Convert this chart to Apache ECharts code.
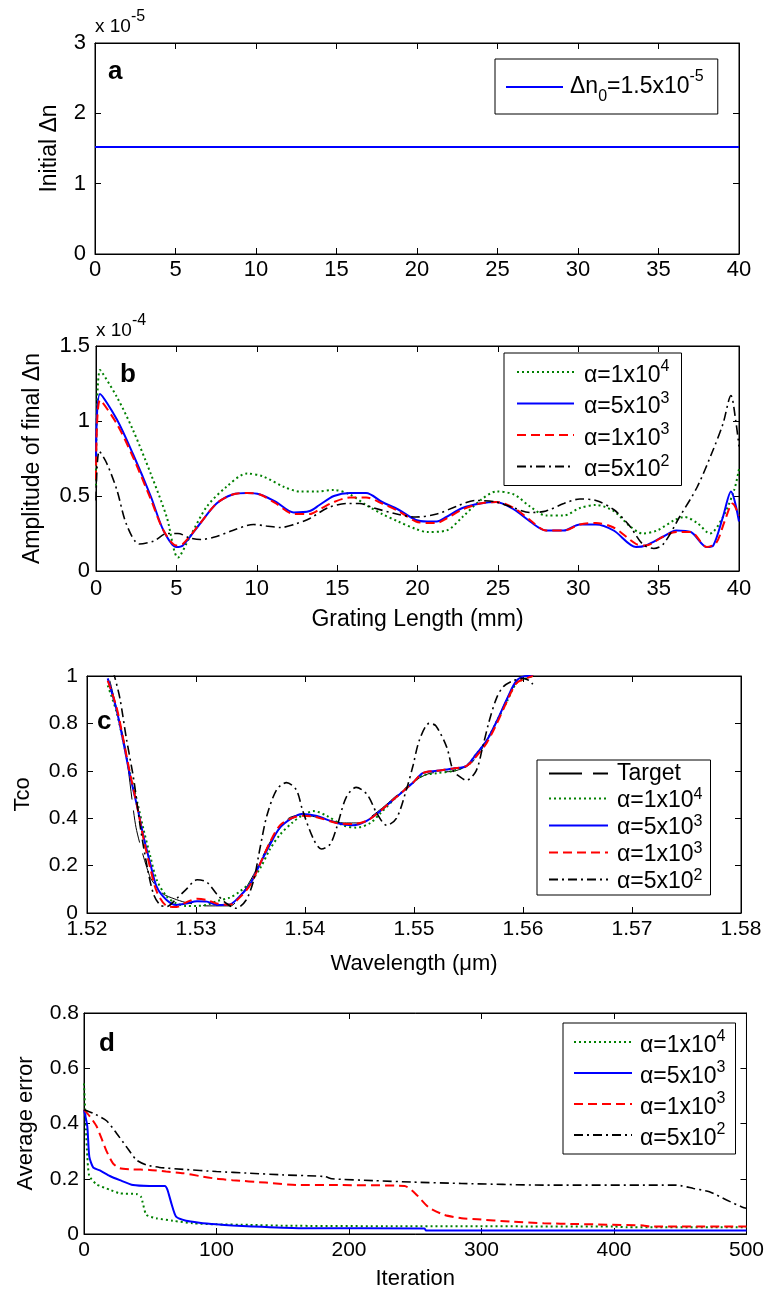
<!DOCTYPE html>
<html><head><meta charset="utf-8">
<script src="https://cdn.jsdelivr.net/npm/echarts@6/dist/echarts.min.js"></script>
<style>html,body{margin:0;padding:0;background:#fff}#c{width:767px;height:1293px}</style>
</head><body><div id="c"></div>
<script>
// ---------------- DATA ----------------
// Panel a (values in units of 1e-5)
const aLine = [[0, 1.52], [40, 1.52]];

// Panel b: grating length (mm) vs amplitude (units of 1e-4)
const bAlpha1e4 = [[0,0.57],[0.25,1.34],[1.3,1.16],[2.3,0.94],[3.4,0.65],[4.4,0.36],[5.1,0.09],[5.85,0.23],[6.9,0.43],[8.1,0.56],[9.4,0.65],[10.4,0.63],[11.7,0.56],[12.7,0.53],[13.7,0.53],[14.8,0.54],[15.8,0.51],[16.8,0.44],[17.8,0.38],[18.8,0.33],[19.9,0.28],[20.6,0.26],[21.8,0.27],[22.8,0.36],[23.9,0.47],[24.9,0.53],[26.0,0.51],[27.0,0.43],[28.0,0.37],[29.1,0.37],[30.1,0.42],[31.1,0.44],[32.2,0.40],[33.2,0.30],[34.0,0.25],[34.9,0.27],[36.0,0.34],[36.6,0.36],[37.4,0.32],[38.2,0.25],[39.0,0.36],[39.7,0.54],[40,0.68]];
const bAlpha5e3 = [[0,0.72],[0.25,1.18],[1.3,1.01],[2.3,0.78],[3.4,0.50],[4.2,0.27],[5.0,0.16],[5.4,0.17],[6.5,0.32],[7.5,0.45],[8.5,0.51],[9.4,0.52],[10.2,0.51],[11.2,0.46],[12.3,0.39],[13.3,0.40],[13.9,0.44],[14.8,0.50],[15.8,0.52],[16.8,0.52],[17.8,0.46],[18.8,0.41],[19.9,0.34],[20.6,0.33],[21.2,0.33],[21.8,0.36],[22.8,0.42],[23.9,0.45],[24.9,0.46],[26.0,0.41],[27.0,0.33],[28.0,0.27],[29.1,0.27],[30.1,0.31],[31.1,0.31],[32.2,0.27],[33.6,0.16],[34.2,0.17],[35.3,0.23],[36.1,0.27],[37.0,0.26],[38.0,0.16],[38.4,0.17],[39.0,0.36],[39.5,0.53],[40,0.33]];
const bAlpha1e3 = [[0,0.61],[0.25,1.14],[1.3,0.98],[2.3,0.76],[3.4,0.48],[4.2,0.27],[5.0,0.17],[5.4,0.18],[6.5,0.32],[7.5,0.45],[8.5,0.51],[9.4,0.52],[10.2,0.51],[11.2,0.45],[12.3,0.38],[13.3,0.38],[13.9,0.41],[14.8,0.46],[15.8,0.49],[16.8,0.49],[17.8,0.45],[18.8,0.40],[19.9,0.33],[20.6,0.32],[21.2,0.32],[21.8,0.35],[22.8,0.41],[23.9,0.45],[24.9,0.46],[26.0,0.42],[27.0,0.34],[28.0,0.27],[29.1,0.27],[30.1,0.31],[31.1,0.32],[32.2,0.29],[33.6,0.18],[34.2,0.17],[35.3,0.23],[36.1,0.26],[37.0,0.26],[38.0,0.16],[38.6,0.19],[39.1,0.33],[39.6,0.45],[40,0.37]];
const bAlpha5e2 = [[0,0.47],[0.2,0.80],[0.66,0.72],[1.3,0.54],[1.9,0.31],[2.7,0.18],[3.6,0.20],[4.4,0.25],[5.1,0.25],[5.85,0.22],[6.5,0.21],[7.5,0.23],[8.5,0.27],[9.8,0.31],[10.6,0.30],[11.5,0.29],[12.3,0.31],[13.3,0.35],[14.4,0.42],[15.6,0.45],[16.4,0.45],[17.3,0.42],[18.7,0.38],[19.9,0.36],[21.2,0.38],[22.4,0.43],[23.6,0.47],[24.9,0.46],[26.0,0.42],[27.0,0.39],[28.0,0.40],[29.1,0.45],[30.1,0.48],[31.1,0.47],[32.2,0.41],[33.2,0.30],[34.0,0.18],[34.7,0.15],[35.3,0.18],[36.3,0.36],[37.4,0.56],[38.4,0.81],[39.0,0.98],[39.5,1.17],[39.8,1.0],[40,0.83]];

// Panel c: wavelength (um) vs Tco
const cTarget = [[1.5221,0.98],[1.5235,0.70],[1.5245,0.36],[1.5258,0.15],[1.527,0.08],[1.528,0.06],[1.529,0.045],[1.531,0.03],[1.5332,0.03],[1.5345,0.10],[1.5355,0.18],[1.5368,0.30],[1.5385,0.40],[1.5397,0.415],[1.5415,0.40],[1.5435,0.38],[1.545,0.38],[1.547,0.44],[1.549,0.52],[1.5505,0.57],[1.5515,0.59],[1.5538,0.60],[1.5552,0.63],[1.5562,0.69],[1.5575,0.80],[1.5588,0.93],[1.56,1.0],[1.561,1.0]];
const cAlpha1e4 = [[1.5219,0.96],[1.5227,0.85],[1.5233,0.73],[1.5239,0.60],[1.5246,0.47],[1.5252,0.35],[1.5258,0.24],[1.5264,0.14],[1.5273,0.07],[1.5282,0.04],[1.5291,0.03],[1.5301,0.03],[1.531,0.035],[1.5319,0.05],[1.5331,0.065],[1.534,0.09],[1.535,0.13],[1.5359,0.19],[1.5368,0.27],[1.5377,0.33],[1.5388,0.38],[1.5397,0.41],[1.5408,0.43],[1.542,0.41],[1.5435,0.37],[1.5447,0.36],[1.546,0.38],[1.5469,0.42],[1.5484,0.49],[1.5499,0.55],[1.5508,0.58],[1.5521,0.59],[1.5536,0.60],[1.5548,0.62],[1.5557,0.67],[1.5567,0.73],[1.5576,0.81],[1.5585,0.89],[1.5594,0.97],[1.5603,0.99],[1.5609,1.0]];
const cAlpha5e3 = [[1.5219,0.99],[1.5227,0.86],[1.5233,0.73],[1.5239,0.59],[1.5246,0.45],[1.5252,0.32],[1.5258,0.21],[1.5264,0.11],[1.5273,0.055],[1.5282,0.034],[1.5291,0.04],[1.5301,0.05],[1.531,0.048],[1.5319,0.034],[1.5331,0.036],[1.534,0.07],[1.535,0.125],[1.5359,0.21],[1.5368,0.29],[1.5377,0.36],[1.5388,0.40],[1.5397,0.418],[1.541,0.41],[1.5429,0.38],[1.5444,0.37],[1.5457,0.39],[1.5469,0.43],[1.5484,0.49],[1.5499,0.55],[1.5508,0.59],[1.5521,0.60],[1.5536,0.61],[1.5548,0.62],[1.5557,0.67],[1.5567,0.73],[1.5576,0.81],[1.5585,0.90],[1.5594,0.98],[1.5603,1.0],[1.5609,1.0]];
const cAlpha1e3 = [[1.5219,0.98],[1.5227,0.87],[1.5233,0.74],[1.5239,0.60],[1.5246,0.45],[1.5252,0.31],[1.5258,0.19],[1.5264,0.09],[1.5273,0.03],[1.5282,0.025],[1.5291,0.045],[1.5301,0.06],[1.531,0.055],[1.5319,0.04],[1.5331,0.035],[1.534,0.065],[1.535,0.12],[1.5359,0.21],[1.5368,0.30],[1.5377,0.37],[1.5388,0.40],[1.5397,0.41],[1.541,0.405],[1.5429,0.38],[1.5444,0.375],[1.5457,0.39],[1.5469,0.43],[1.5484,0.49],[1.5499,0.55],[1.5508,0.59],[1.5521,0.60],[1.5536,0.61],[1.5548,0.62],[1.5557,0.66],[1.5567,0.72],[1.5576,0.80],[1.5585,0.89],[1.5594,0.97],[1.5603,0.99],[1.5609,1.0]];
const cAlpha5e2 = [[1.5224,1.02],[1.523,0.91],[1.5236,0.74],[1.5243,0.56],[1.5249,0.36],[1.5255,0.20],[1.5261,0.08],[1.5267,0.034],[1.5273,0.027],[1.5282,0.06],[1.5291,0.10],[1.5301,0.14],[1.531,0.13],[1.5319,0.08],[1.5328,0.04],[1.5337,0.02],[1.5346,0.055],[1.5353,0.14],[1.5359,0.28],[1.5365,0.41],[1.5374,0.52],[1.5383,0.55],[1.5392,0.52],[1.5398,0.43],[1.5408,0.31],[1.5415,0.27],[1.5423,0.29],[1.5429,0.36],[1.5438,0.49],[1.5447,0.53],[1.5457,0.50],[1.5466,0.42],[1.5475,0.37],[1.5484,0.40],[1.5493,0.52],[1.5499,0.62],[1.5505,0.73],[1.5514,0.80],[1.552,0.79],[1.553,0.70],[1.5536,0.60],[1.5542,0.575],[1.5548,0.56],[1.5557,0.60],[1.5563,0.70],[1.5569,0.81],[1.5576,0.91],[1.5582,0.955],[1.5591,0.98],[1.56,0.99],[1.5606,0.98],[1.5609,0.965]];

// Panel d: iteration vs average error
const dAlpha1e4 = [[0,0.545],[1.5,0.38],[2.5,0.28],[4,0.21],[9.5,0.18],[19.5,0.16],[27,0.147],[39.5,0.145],[43,0.135],[47,0.07],[54.5,0.057],[67,0.048],[82,0.039],[100,0.035],[125,0.033],[150,0.03],[237,0.028],[400,0.027],[410,0.024],[500,0.024]];
const dAlpha5e3 = [[0,0.45],[2.5,0.39],[4,0.28],[7,0.24],[12,0.23],[19.5,0.21],[27,0.195],[37,0.177],[49.5,0.174],[61,0.174],[63,0.16],[66,0.11],[69.5,0.063],[77,0.048],[87,0.041],[100,0.035],[112,0.031],[127,0.027],[162,0.021],[257,0.02],[258,0.013],[500,0.013]];
const dAlpha1e3 = [[0,0.45],[4.5,0.425],[9.5,0.39],[17,0.30],[22,0.255],[27,0.238],[37,0.234],[49.5,0.232],[62,0.226],[75,0.22],[87,0.21],[100,0.20],[112,0.195],[137,0.186],[162,0.177],[187,0.177],[242,0.174],[250,0.147],[260,0.097],[272,0.069],[285,0.057],[297,0.053],[322,0.045],[347,0.039],[372,0.036],[422,0.031],[427,0.027],[500,0.027]];
const dAlpha5e2 = [[0,0.45],[7,0.437],[17,0.41],[24.5,0.365],[32,0.316],[39.5,0.268],[47,0.25],[57,0.241],[75,0.234],[100,0.226],[125,0.22],[150,0.214],[182,0.208],[187,0.20],[220,0.193],[247,0.188],[285,0.183],[347,0.177],[447,0.177],[460,0.165],[472,0.153],[485,0.123],[497,0.097],[500,0.093]];

// Legend labels
const alphaMantissa = ['1x10', '5x10', '1x10', '5x10'];
const alphaExponent = ['4', '3', '3', '2'];
const panelLetters = ['a', 'b', 'c', 'd'];

// ---------------- STYLE ----------------
const FONT = "'Liberation Sans', Arial, Helvetica, sans-serif";
const GREEN = '#008000', BLUE = '#0000ff', RED = '#ff0000', BLACK = '#000000';
const DOT = [2, 3], DASH = [9, 5], DASHDOT = [9, 4, 2, 4], LONGDASH = [33, 11];

const grids = [
  { left: 95, top: 43, width: 644, height: 211 },
  { left: 96, top: 346, width: 643, height: 225 },
  { left: 87, top: 676, width: 654, height: 237 },
  { left: 84, top: 1013, width: 666, height: 221 }
].map(g => Object.assign({ show: true, borderColor: '#000', borderWidth: 1, backgroundColor: '#fff' }, g));

const xAxes = [], yAxes = [];
function addAxes(gi, isX, min, max, interval, fs, margin, fmt, name, nameGap, nameFs) {
  const base = {
    type: 'value', gridIndex: gi, min, max, interval,
    splitLine: { show: false },
    axisTick: { show: true, inside: true, length: 6, lineStyle: { color: '#000', width: 1 } },
    axisLine: { show: true, onZero: false, lineStyle: { color: '#000', width: 1 } }
  };
  const main = Object.assign({}, base, {
    position: isX ? 'bottom' : 'left',
    axisLabel: { show: true, color: '#000', fontSize: fs, fontFamily: FONT, margin, formatter: fmt, showMinLabel: true, showMaxLabel: true, hideOverlap: false },
    name, nameLocation: 'middle', nameGap,
    nameTextStyle: { color: '#000', fontSize: nameFs, fontFamily: FONT }
  });
  const sec = Object.assign({}, base, { position: isX ? 'top' : 'right', axisLabel: { show: false } });
  const arr = isX ? xAxes : yAxes;
  arr.push(main, sec);
}
const fmtInt = v => String(Math.round(v));
const fmtDec = v => String(+v.toFixed(2));
// panel a
addAxes(0, true, 0, 40, 5, 22, 5, fmtInt, '', 0, 22);
addAxes(0, false, 0, 3, 1, 22, 9, fmtInt, 'Initial \u0394n', 34, 23);
// panel b
addAxes(1, true, 0, 40, 5, 22, 7, fmtInt, 'Grating Length (mm)', 37, 23);
addAxes(1, false, 0, 1.5, 0.5, 22, 6, fmtDec, 'Amplitude of final \u0394n', 52, 23);
// panel c
addAxes(2, true, 1.52, 1.58, 0.01, 21, 6, v => v.toFixed(2), 'Wavelength (\u03bcm)', 40, 22);
addAxes(2, false, 0, 1, 0.2, 21, 9, fmtDec, 'Tco', 53, 22);
// panel d
addAxes(3, true, 0, 500, 100, 21, 6, fmtInt, 'Iteration', 34, 22);
addAxes(3, false, 0, 0.8, 0.2, 21, 5, fmtDec, 'Average error', 47, 22);

function line(name, data, gi, color, dash, width, smooth) {
  return {
    type: 'line', name, data, xAxisIndex: gi * 2, yAxisIndex: gi * 2,
    symbol: 'none', showSymbol: false, smooth: smooth, clip: true,
    lineStyle: { color, width, type: dash }, itemStyle: { color },
    emphasis: { disabled: true }, animation: false
  };
}

const series = [
  line('a1', aLine, 0, BLUE, 'solid', 2, false),
  line('b1', bAlpha1e4, 1, GREEN, DOT, 2, 0.3),
  line('b2', bAlpha5e3, 1, BLUE, 'solid', 2, 0.3),
  line('b3', bAlpha1e3, 1, RED, DASH, 2, 0.3),
  line('b4', bAlpha5e2, 1, BLACK, DASHDOT, 1.6, 0.3),
  line('c0', cTarget, 2, BLACK, LONGDASH, 1, 0.2),
  line('c1', cAlpha1e4, 2, GREEN, DOT, 2, 0.3),
  line('c2', cAlpha5e3, 2, BLUE, 'solid', 2, 0.3),
  line('c3', cAlpha1e3, 2, RED, DASH, 2, 0.3),
  line('c4', cAlpha5e2, 2, BLACK, DASHDOT, 1.6, 0.3),
  line('d1', dAlpha1e4, 3, GREEN, DOT, 2, 0.2),
  line('d2', dAlpha5e3, 3, BLUE, 'solid', 2, 0.2),
  line('d3', dAlpha1e3, 3, RED, DASH, 2, 0.2),
  line('d4', dAlpha5e2, 3, BLACK, DASHDOT, 1.6, 0.2)
];

const labelMap = { a1: '{m0|\u0394n}{d|0}{m|=1.5x10}{s|-5}', c0: '{T|Target}' };
['b', 'c', 'd'].forEach(p => {
  for (let i = 0; i < 4; i++) labelMap[p + (i + 1)] = '{t|\u03b1=' + alphaMantissa[i] + '}{s|' + alphaExponent[i] + '}';
});

function richFor(fs, ss, H, sTop, padL) {
  const base = { fontFamily: FONT, color: '#000' };
  return {
    t: Object.assign({ fontSize: fs, lineHeight: H, verticalAlign: 'bottom', padding: [0, 0, 0, padL] }, base),
    T: Object.assign({ fontSize: fs, lineHeight: H, padding: [0, 0, 0, padL] }, base),
    m0: Object.assign({ fontSize: fs, lineHeight: H, padding: [0, 0, 0, padL] }, base),
    m: Object.assign({ fontSize: fs, lineHeight: H }, base),
    s: Object.assign({ fontSize: ss, lineHeight: H, verticalAlign: 'top', padding: [sTop, 0, 0, 0] }, base),
    d: Object.assign({ fontSize: ss, lineHeight: H, verticalAlign: 'bottom', padding: [0, 0, sTop, 0] }, base)
  };
}
function legend(ids, left, top, padding, gap, iw, rich) {
  return {
    show: true, orient: 'vertical', left, top, padding, itemGap: gap,
    itemWidth: iw, itemHeight: 12, selectedMode: false,
    borderColor: '#000', borderWidth: 1, borderRadius: 0, backgroundColor: '#fff',
    itemStyle: { opacity: 0, borderWidth: 0 },
    data: ids, formatter: n => labelMap[n],
    textStyle: { color: '#000', fontFamily: FONT, fontSize: 23, rich }
  };
}
const legends = [
  legend(['a1'], 495, 59, [10, 14, 9, 10], 0, 57, richFor(23, 16, 36, 0, 2)),
  legend(['b1', 'b2', 'b3', 'b4'], 504, 353, [4, 12, 4, 12], 1.5, 57, richFor(23, 16, 30, 2, 5)),
  legend(['c0', 'c1', 'c2', 'c3', 'c4'], 537, 760, [2, 8, 2, 11], 0, 59, richFor(23, 16, 27, 2, 4)),
  legend(['d1', 'd2', 'd3', 'd4'], 563, 1023, [4, 10, 4, 10], 1, 58, richFor(23, 16, 30, 2, 3))
];

function expLabel(x, y, exp) {
  return {
    type: 'text', x, y, z: 10,
    style: {
      text: '{a|x 10}{b|' + exp + '}', verticalAlign: 'top', fill: '#000',
      rich: {
        a: { fontSize: 19, fontFamily: FONT, lineHeight: 27, verticalAlign: 'bottom', fill: '#000' },
        b: { fontSize: 16, fontFamily: FONT, lineHeight: 27, verticalAlign: 'top', fill: '#000' }
      }
    }
  };
}
function letter(x, y, t) {
  return { type: 'text', x, y, z: 10, style: { text: t, fontSize: 26, fontWeight: 'bold', fontFamily: FONT, fill: '#000', verticalAlign: 'middle' } };
}
const graphic = [
  expLabel(95, 9, '-5'),
  expLabel(96, 313, '-4'),
  letter(108, 72, panelLetters[0]),
  letter(120, 375, panelLetters[1]),
  letter(97, 722, panelLetters[2]),
  letter(99, 1044, panelLetters[3])
];

const chart = echarts.init(document.getElementById('c'), null, { renderer: 'canvas' });
chart.setOption({
  animation: false,
  backgroundColor: '#fff',
  textStyle: { fontFamily: FONT },
  grid: grids,
  xAxis: xAxes,
  yAxis: yAxes,
  legend: legends,
  series,
  graphic
});
</script>
</body></html>
